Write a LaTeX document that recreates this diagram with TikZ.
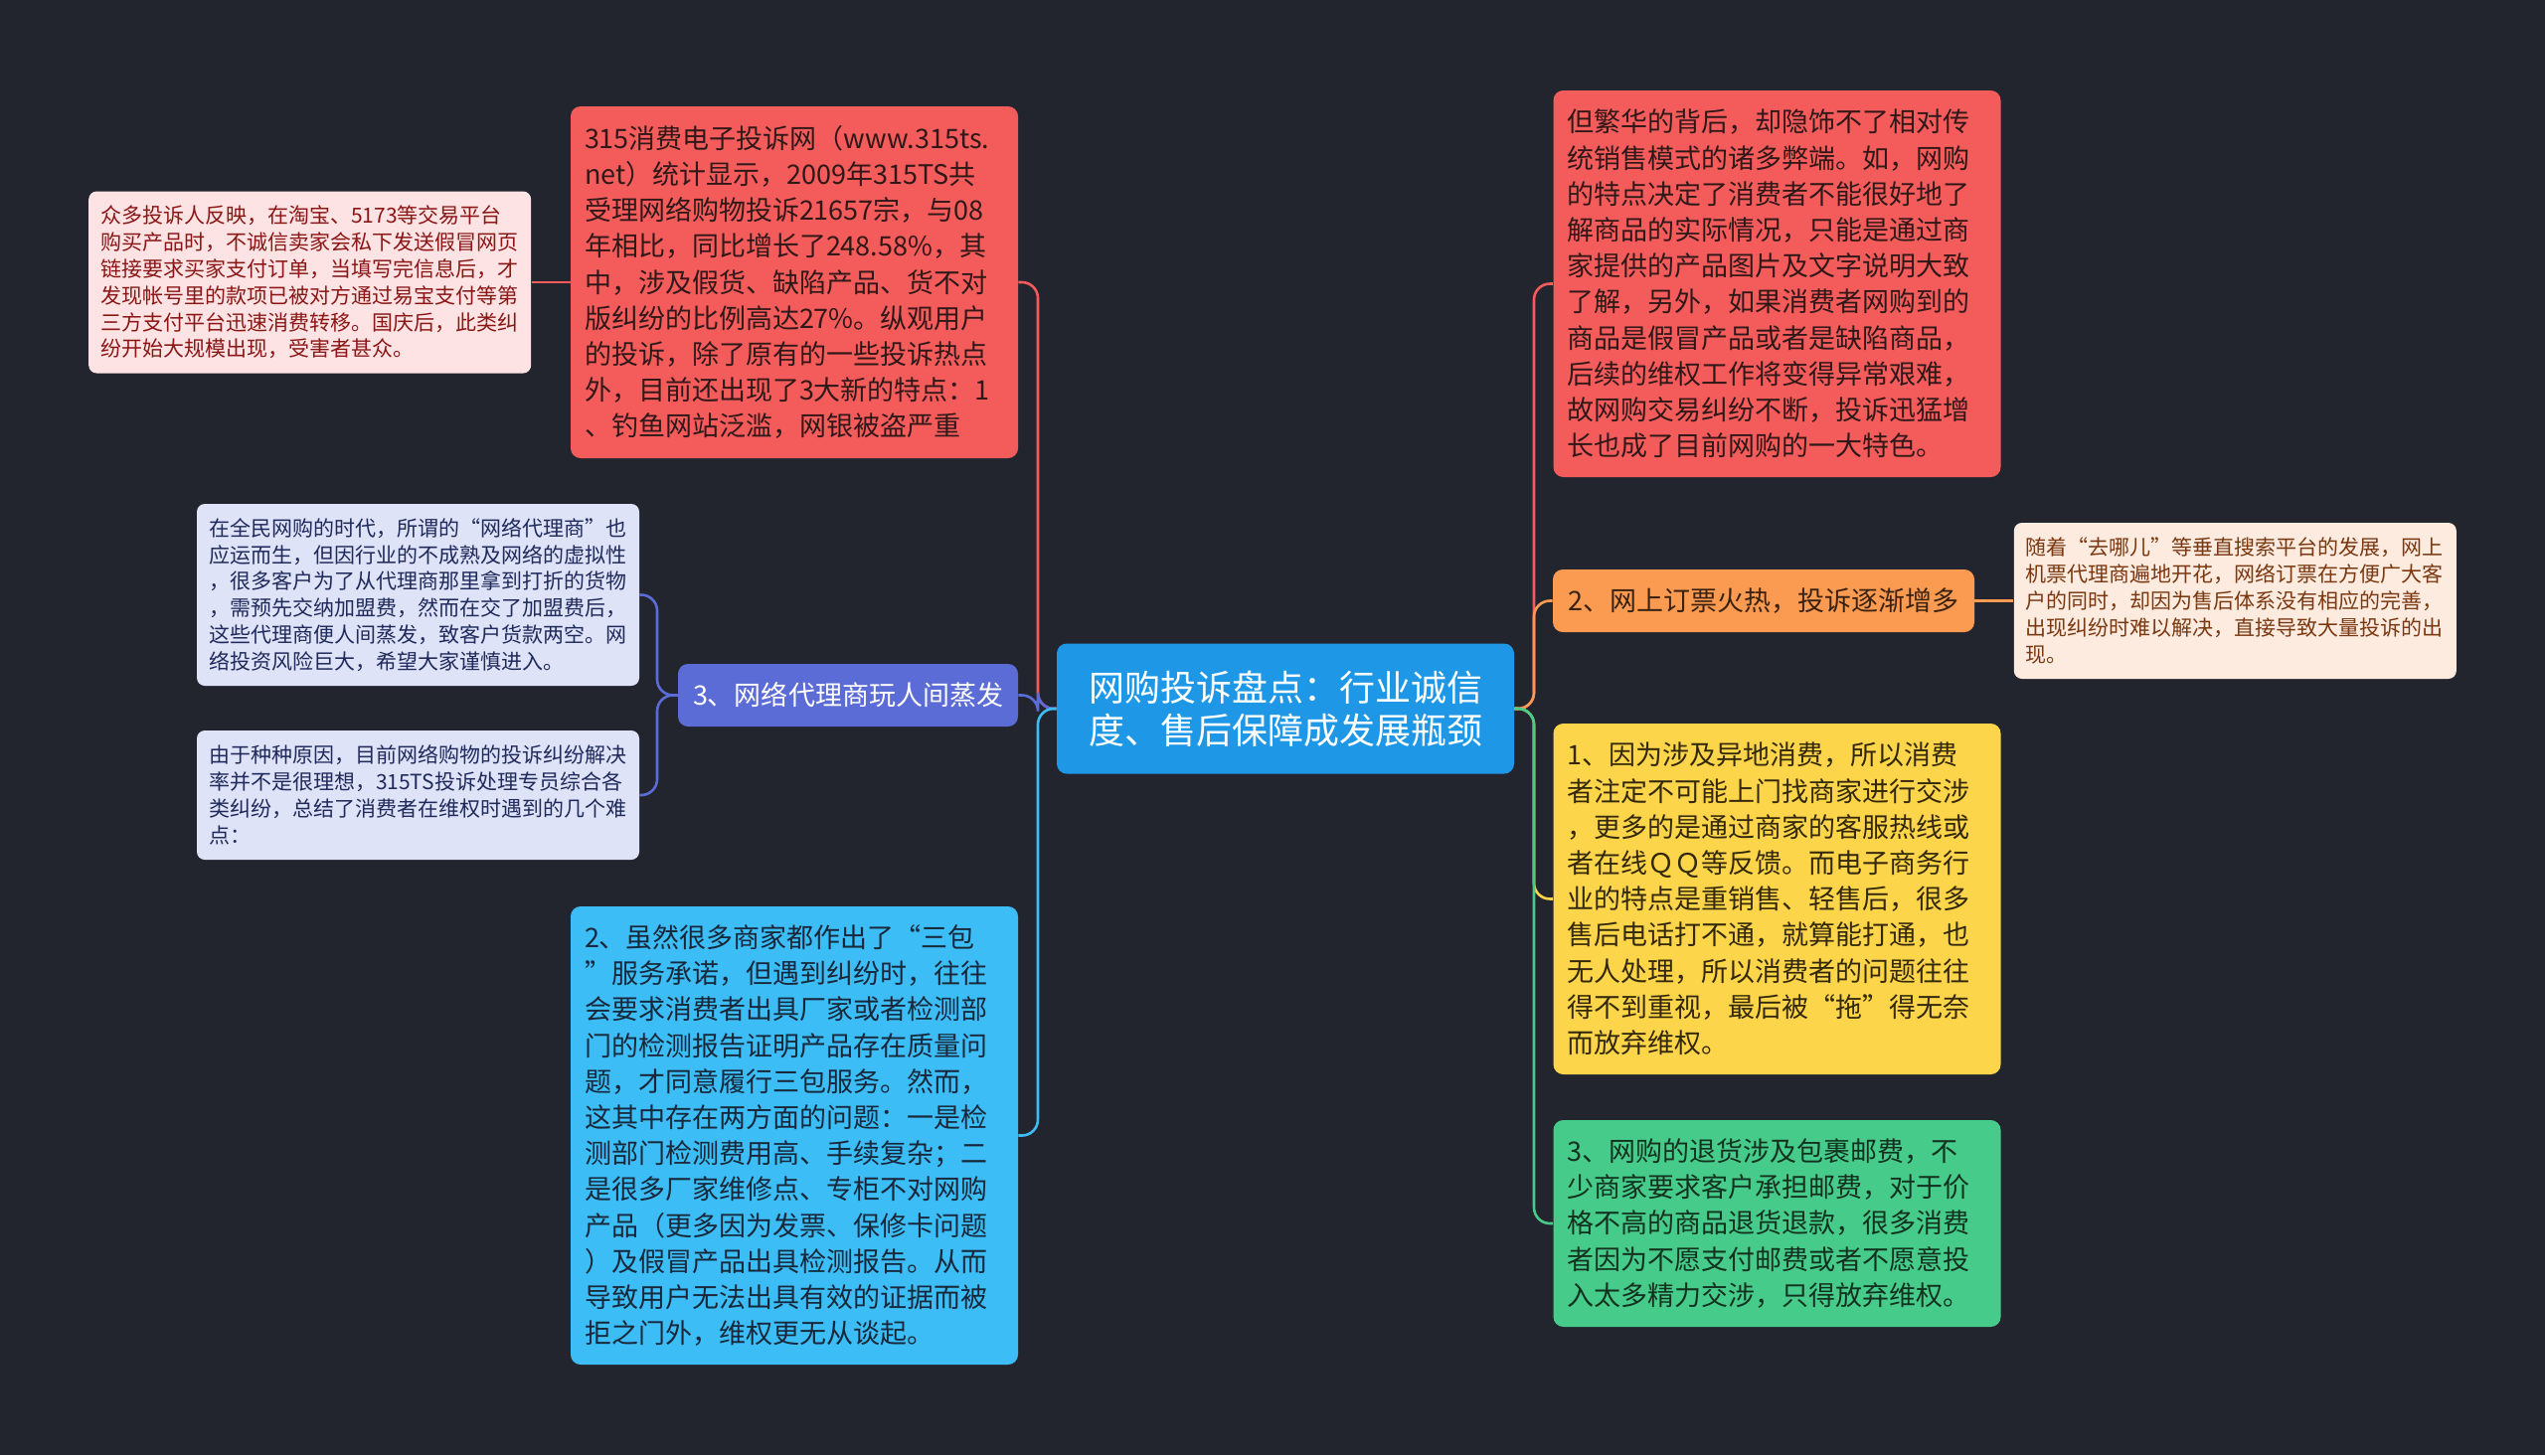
\documentclass[tikz,border=0pt]{standalone}
\usepackage{fontspec}
\newfontfamily\cjk{Noto Sans CJK SC}
\usepackage{xcolor}
\usetikzlibrary{positioning}
\definecolor{bgc}{HTML}{22252E}
\definecolor{rootc}{HTML}{1E98E6}
\definecolor{redc}{HTML}{F45C5C}
\definecolor{redtxt}{HTML}{301818}
\definecolor{pinkc}{HTML}{FDE3E3}
\definecolor{pinktxt}{HTML}{8A1616}
\definecolor{purplec}{HTML}{5B6CD6}
\definecolor{lavc}{HTML}{DFE3F7}
\definecolor{lavtxt}{HTML}{1F2A5C}
\definecolor{bluec}{HTML}{3CBDF6}
\definecolor{bluetxt}{HTML}{18283A}
\definecolor{orangec}{HTML}{FB9B52}
\definecolor{orangetxt}{HTML}{3A2210}
\definecolor{peachc}{HTML}{FDEBE0}
\definecolor{peachtxt}{HTML}{7A3810}
\definecolor{yellowc}{HTML}{FDD54B}
\definecolor{yellowtxt}{HTML}{33290A}
\definecolor{greenc}{HTML}{47CB8B}
\definecolor{greentxt}{HTML}{12321F}

\begin{document}
\begin{tikzpicture}[
  x=0.5pt, y=-0.5pt,
  every node/.style={inner sep=0pt, align=left},
  root/.style={fill=rootc, text=white, rounded corners=5pt, align=center,
    minimum width=230pt, minimum height=65.5pt, font=\cjk\fontsize{18}{21.5}\selectfont},
  topic/.style={rounded corners=5pt, inner xsep=7pt, text width=211pt, font=\cjk\fontsize{13.5}{18.1}\selectfont},
  branch/.style={rounded corners=5pt, minimum height=31.5pt, align=center, font=\cjk\fontsize{13.5}{18.1}\selectfont},
  note/.style={rounded corners=4pt, inner xsep=6pt, text width=210.5pt, font=\cjk\fontsize{10.5}{13.4}\selectfont},
  link/.style={line width=1.3pt, rounded corners=8pt}
]
  \useasboundingbox (0,0) rectangle (2560,1464);
  \fill[bgc] (0,0) rectangle (2560,1464);

  \node[root] (root) at (1293,713) {网购投诉盘点：行业诚信\\度、售后保障成发展瓶颈};

  \node[topic, fill=redc, text=redtxt, minimum height=177pt] (stats) at (799,284)
    {315消费电子投诉网（www.315ts.\\net）统计显示，2009年315TS共\\受理网络购物投诉21657宗，与08\\年相比，同比增长了248.58\%，其\\中，涉及假货、缺陷产品、货不对\\版纠纷的比例高达27\%。纵观用户\\的投诉，除了原有的一些投诉热点\\外，目前还出现了3大新的特点：1\\、钓鱼网站泛滥，网银被盗严重};
  \node[note, fill=pinkc, text=pinktxt, minimum height=91.5pt, left=19.5pt of stats] (victims)
    {众多投诉人反映，在淘宝、5173等交易平台\\购买产品时，不诚信卖家会私下发送假冒网页\\链接要求买家支付订单，当填写完信息后，才\\发现帐号里的款项已被对方通过易宝支付等第\\三方支付平台迅速消费转移。国庆后，此类纠\\纷开始大规模出现，受害者甚众。};

  \node[branch, fill=purplec, text=white, minimum width=171pt] (agent) at (853,699.5) {3、网络代理商玩人间蒸发};
  \node[note, fill=lavc, text=lavtxt, minimum height=91.5pt] (agentA) at (420.5,598.5)
    {在全民网购的时代，所谓的“网络代理商”也\\应运而生，但因行业的不成熟及网络的虚拟性\\，很多客户为了从代理商那里拿到打折的货物\\，需预先交纳加盟费，然而在交了加盟费后，\\这些代理商便人间蒸发，致客户货款两空。网\\络投资风险巨大，希望大家谨慎进入。};
  \node[note, fill=lavc, text=lavtxt, minimum height=65pt] (agentB) at (420.5,800)
    {由于种种原因，目前网络购物的投诉纠纷解决\\率并不是很理想，315TS投诉处理专员综合各\\类纠纷，总结了消费者在维权时遇到的几个难\\点：};

  \node[topic, fill=bluec, text=bluetxt, minimum height=230.5pt] (warranty) at (799,1142.5)
    {2、虽然很多商家都作出了“三包\\”服务承诺，但遇到纠纷时，往往\\会要求消费者出具厂家或者检测部\\门的检测报告证明产品存在质量问\\题，才同意履行三包服务。然而，\\这其中存在两方面的问题：一是检\\测部门检测费用高、手续复杂；二\\是很多厂家维修点、专柜不对网购\\产品（更多因为发票、保修卡问题\\）及假冒产品出具检测报告。从而\\导致用户无法出具有效的证据而被\\拒之门外，维权更无从谈起。};

  \node[topic, fill=redc, text=redtxt, minimum height=194.5pt] (flaws) at (1787.5,285.5)
    {但繁华的背后，却隐饰不了相对传\\统销售模式的诸多弊端。如，网购\\的特点决定了消费者不能很好地了\\解商品的实际情况，只能是通过商\\家提供的产品图片及文字说明大致\\了解，另外，如果消费者网购到的\\商品是假冒产品或者是缺陷商品，\\后续的维权工作将变得异常艰难，\\故网购交易纠纷不断，投诉迅猛增\\长也成了目前网购的一大特色。};

  \node[branch, fill=orangec, text=orangetxt, minimum width=212pt] (ticket) at (1774,604.5) {2、网上订票火热，投诉逐渐增多};
  \node[note, fill=peachc, text=peachtxt, minimum height=78.5pt, right=19.5pt of ticket] (ticketnote)
    {随着“去哪儿”等垂直搜索平台的发展，网上\\机票代理商遍地开花，网络订票在方便广大客\\户的同时，却因为售后体系没有相应的完善，\\出现纠纷时难以解决，直接导致大量投诉的出\\现。};

  \node[topic, fill=yellowc, text=yellowtxt, minimum height=176.5pt] (remote) at (1787.5,904.5)
    {1、因为涉及异地消费，所以消费\\者注定不可能上门找商家进行交涉\\，更多的是通过商家的客服热线或\\者在线ＱＱ等反馈。而电子商务行\\业的特点是重销售、轻售后，很多\\售后电话打不通，就算能打通，也\\无人处理，所以消费者的问题往往\\得不到重视，最后被“拖”得无奈\\而放弃维权。};

  \node[topic, fill=greenc, text=greentxt, minimum height=104pt] (postage) at (1787.5,1231)
    {3、网购的退货涉及包裹邮费，不\\少商家要求客户承担邮费，对于价\\格不高的商品退货退款，很多消费\\者因为不愿支付邮费或者不愿意投\\入太多精力交涉，只得放弃维权。};

  \coordinate (ltrunk) at (1044,713);
  \coordinate (rtrunk) at (1543,713);
  \coordinate (atrunk) at (661,699.5);

  \draw[link, redc] (root.west) -- (ltrunk) |- (stats.east);
  \draw[link, purplec] (root.west) -- (ltrunk) |- (agent.east);
  \draw[link, bluec] (root.west) -- (ltrunk) |- (warranty.east);
  \draw[link, redc] (stats.west) -- (victims.east);
  \draw[link, purplec] (agent.west) -- (atrunk) |- (agentA.east);
  \draw[link, purplec] (agent.west) -- (atrunk) |- (agentB.east);

  \draw[link, redc] (root.east) -- (rtrunk) |- (flaws.west);
  \draw[link, orangec] (root.east) -- (rtrunk) |- (ticket.west);
  \draw[link, yellowc] (root.east) -- (rtrunk) |- (remote.west);
  \draw[link, greenc] (root.east) -- (rtrunk) |- (postage.west);
  \draw[link, orangec] (ticket.east) -- (ticketnote.west);
\end{tikzpicture}
\end{document}
